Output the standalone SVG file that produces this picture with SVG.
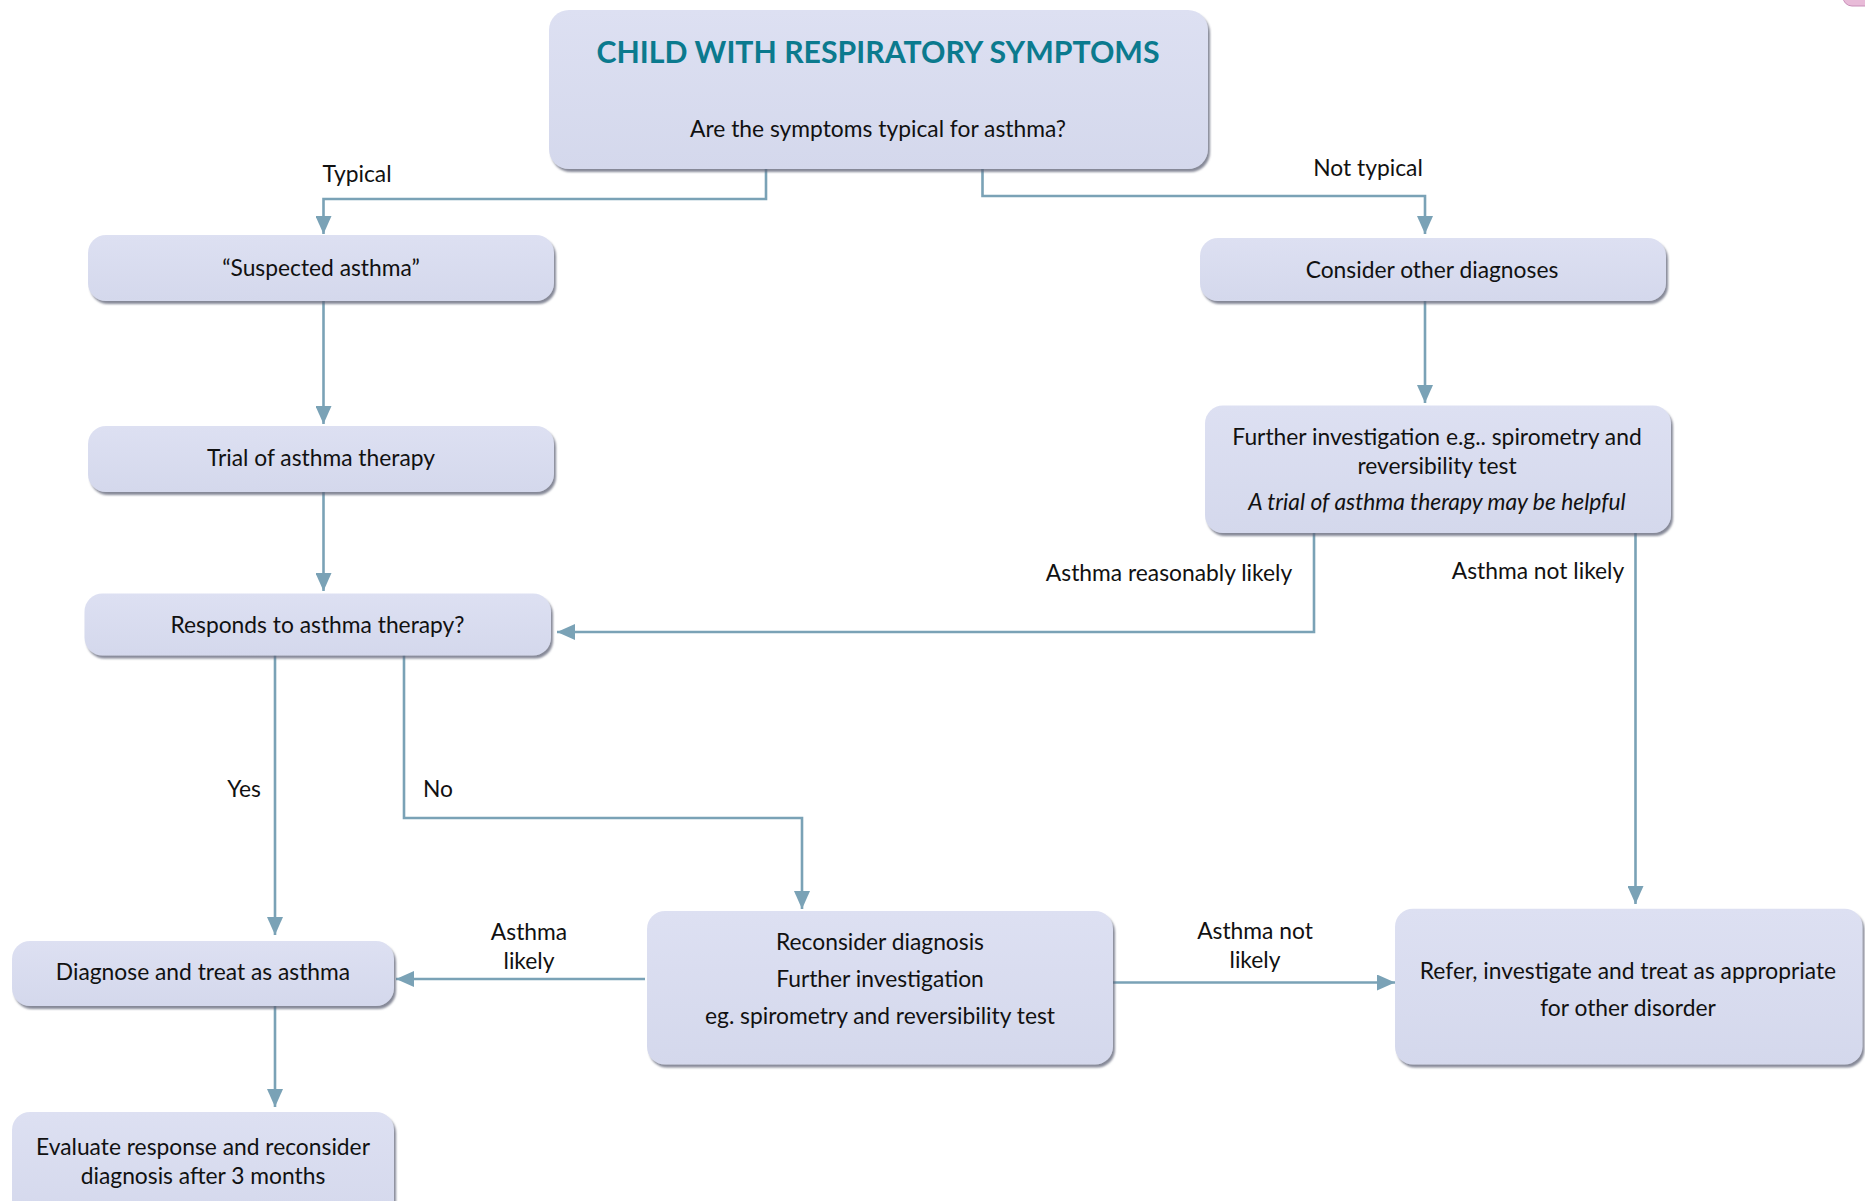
<svg xmlns="http://www.w3.org/2000/svg" width="1865" height="1201" viewBox="0 0 1865 1201">
<style>
.box{fill:url(#bg);filter:url(#sh)}
.t{font-family:Lato,"Liberation Sans",sans-serif;font-size:22.8px;fill:#111;text-anchor:middle}
.i{font-style:italic}
.lbl{font-family:Lato,"Liberation Sans",sans-serif;font-size:22.8px;fill:#111;text-anchor:middle}
.title{font-family:Lato,"Liberation Sans",sans-serif;font-size:29.5px;font-weight:bold;fill:#0b7a8e;text-anchor:middle}
.c{fill:none;stroke:#7aa2b6;stroke-width:2.6}
</style>
<defs>
<linearGradient id="bg" x1="0" y1="0" x2="0" y2="1">
<stop offset="0" stop-color="#dde0f2"/>
<stop offset="1" stop-color="#d4d8ec"/>
</linearGradient>
<filter id="sh" x="-5%" y="-10%" width="110%" height="130%">
<feDropShadow dx="2" dy="3" stdDeviation="1.3" flood-color="#5d6275" flood-opacity="0.75"/>
</filter>
<marker id="ah" markerUnits="userSpaceOnUse" markerWidth="19" markerHeight="16" refX="18" refY="8" orient="auto">
<path d="M0,0 L18,8 L0,16 z" fill="#7aa2b6"/>
</marker>
</defs>
<rect x="1843" y="-20" width="50" height="26" rx="9" fill="#e8bbd8" stroke="#c98fb9" stroke-width="1"/>
<g id="connectors">
<path class="c" d="M766,169 V199 H323.5 V234" marker-end="url(#ah)"/>
<path class="c" d="M982.5,169 V196 H1425 V234" marker-end="url(#ah)"/>
<path class="c" d="M323.5,301 V424" marker-end="url(#ah)"/>
<path class="c" d="M323.5,492 V591" marker-end="url(#ah)"/>
<path class="c" d="M1425,301 V403" marker-end="url(#ah)"/>
<path class="c" d="M1314,533 V632 H557" marker-end="url(#ah)"/>
<path class="c" d="M1635.5,533 V904" marker-end="url(#ah)"/>
<path class="c" d="M275,655 V935" marker-end="url(#ah)"/>
<path class="c" d="M404,655 V818 H802 V909" marker-end="url(#ah)"/>
<path class="c" d="M275,1006 V1107" marker-end="url(#ah)"/>
<path class="c" d="M645,979 H396" marker-end="url(#ah)"/>
<path class="c" d="M1113,982.5 H1395" marker-end="url(#ah)"/>
<text class="lbl" x="357" y="182">Typical</text>
<text class="lbl" x="1368" y="176">Not typical</text>
<text class="lbl" x="1169" y="581">Asthma reasonably likely</text>
<text class="lbl" x="1538" y="579">Asthma not likely</text>
<text class="lbl" x="244" y="797">Yes</text>
<text class="lbl" x="438" y="797">No</text>
<text class="lbl" x="529" y="940">Asthma</text>
<text class="lbl" x="529" y="969">likely</text>
<text class="lbl" x="1255" y="939">Asthma not</text>
<text class="lbl" x="1255" y="968">likely</text>
</g>
<g id="start">
<rect class="box" x="549" y="10" width="659" height="159" rx="20"/>
<text class="title" x="878" y="63" textLength="563" lengthAdjust="spacingAndGlyphs">CHILD WITH RESPIRATORY SYMPTOMS</text>
<text class="t" x="878" y="137">Are the symptoms typical for asthma?</text>
</g>
<g id="suspected">
<rect class="box" x="88" y="235" width="466" height="66" rx="18"/>
<text class="t" x="321" y="276">“Suspected asthma”</text>
</g>
<g id="trial">
<rect class="box" x="88" y="426" width="466" height="66" rx="18"/>
<text class="t" x="321" y="466">Trial of asthma therapy</text>
</g>
<g id="responds">
<rect class="box" x="84.5" y="593.5" width="466.5" height="62" rx="18"/>
<text class="t" x="317.5" y="633">Responds to asthma therapy?</text>
</g>
<g id="consider">
<rect class="box" x="1200" y="238" width="466" height="63" rx="18"/>
<text class="t" x="1432" y="278">Consider other diagnoses</text>
</g>
<g id="further">
<rect class="box" x="1205" y="405.5" width="466" height="127.5" rx="18"/>
<text class="t" x="1437" y="445">Further investigation e.g.. spirometry and</text>
<text class="t" x="1437" y="474">reversibility test</text>
<text class="t i" x="1437" y="510">A trial of asthma therapy may be helpful</text>
</g>
<g id="diagnose">
<rect class="box" x="12" y="941" width="382" height="65" rx="18"/>
<text class="t" x="203" y="980">Diagnose and treat as asthma</text>
</g>
<g id="evaluate">
<rect class="box" x="12" y="1112" width="382" height="110" rx="18"/>
<text class="t" x="203" y="1155">Evaluate response and reconsider</text>
<text class="t" x="203" y="1184">diagnosis after 3 months</text>
</g>
<g id="reconsider">
<rect class="box" x="647" y="911" width="466" height="153.5" rx="18"/>
<text class="t" x="880" y="950">Reconsider diagnosis</text>
<text class="t" x="880" y="987">Further investigation</text>
<text class="t" x="880" y="1024">eg. spirometry and reversibility test</text>
</g>
<g id="refer">
<rect class="box" x="1395" y="908.7" width="467.5" height="155.8" rx="18"/>
<text class="t" x="1628" y="979">Refer, investigate and treat as appropriate</text>
<text class="t" x="1628" y="1016">for other disorder</text>
</g>
</svg>
